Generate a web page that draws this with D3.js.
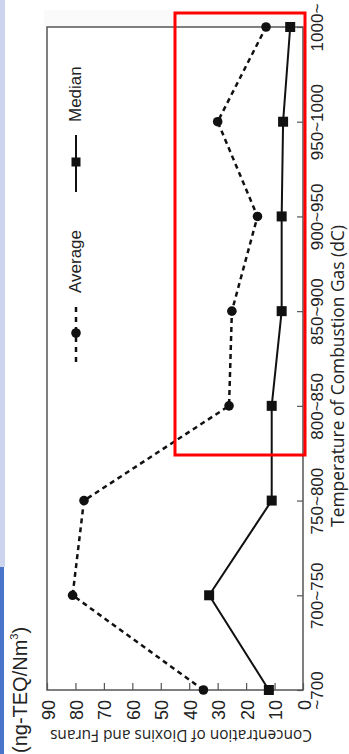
<!DOCTYPE html>
<html><head><meta charset="utf-8">
<script src="https://cdn.jsdelivr.net/npm/d3@7"></script>
<style>html,body{margin:0;padding:0;background:#fff;}svg{display:block;}</style>
</head><body>
<script>
const categories = ["~700","700~750","750~800","800~850","850~900","900~950","950~1000","1000~"];
const averageValues = [35, 81, 77, 26, 25, 16, 30, 13];
const medianValues = [12, 33, 11, 11, 7.5, 7.5, 7, 4.5];
const valueTicks = [0,10,20,30,40,50,60,70,80,90];
const xTitle = "Temperature of Combustion Gas (dC)";
const yTitle = "Concentration of Dioxins and Furans";
const unitLabel = "(ng-TEQ/Nm";

const W = 349, H = 754;
const svg = d3.select("body").append("svg").attr("width", W).attr("height", H);

// page strip at the left edge
svg.append("rect").attr("x",0).attr("y",0).attr("width",5).attr("height",567).attr("fill","#cdd4ee");
svg.append("rect").attr("x",0).attr("y",567).attr("width",4).attr("height",H-567).attr("fill","#4a74c9");
// faint band above the plot
svg.append("rect").attr("x",44).attr("y",10).attr("width",262).attr("height",17).attr("fill","#fafafa");

const plot = {left:47, right:303, top:27, bottom:690};
const val = d3.scaleLinear().domain([0,90]).range([plot.right, plot.left]);
const cat = d3.scalePoint().domain(categories).range([plot.bottom, plot.top]).padding(0);

const narrow = "'Liberation Sans Narrow','Arial Narrow',sans-serif";
const sans = "'Liberation Sans',Arial,sans-serif";
const soft = "'Open Sans','Noto Sans',sans-serif";

function fit(sel, target){
  const n = sel.node();
  const fs = +sel.attr("font-size");
  const len = n.getComputedTextLength();
  if (len > 0) sel.attr("font-size", (fs*target/len).toFixed(2));
  return sel;
}

// frame
svg.append("rect").attr("x",plot.left).attr("y",plot.top)
  .attr("width",plot.right-plot.left).attr("height",plot.bottom-plot.top)
  .attr("fill","none").attr("stroke","#555").attr("stroke-width",1.5);

// value axis (bottom, rotated labels)
const vAxis = svg.append("g").attr("transform",`translate(0,${plot.bottom})`)
  .call(d3.axisBottom(val).tickValues(valueTicks).tickSizeInner(-7).tickSizeOuter(0));
vAxis.select(".domain").remove();
vAxis.selectAll(".tick line").attr("stroke","#555").attr("stroke-width",1.2);
vAxis.selectAll(".tick text")
  .attr("transform","rotate(-90)").attr("x",-10).attr("y",7).attr("dy",null)
  .attr("text-anchor","end").attr("font-family",narrow).attr("font-size",18).attr("fill","#222");

// category axis (right, rotated labels)
const cAxis = svg.append("g").attr("transform",`translate(${plot.right},0)`)
  .call(d3.axisRight(cat).tickSizeInner(-6).tickSizeOuter(0));
cAxis.select(".domain").remove();
cAxis.selectAll(".tick line").attr("stroke","#555").attr("stroke-width",1.2);
cAxis.selectAll(".tick text")
  .attr("transform","rotate(-90)").attr("x",0).attr("y",20).attr("dy",null)
  .attr("text-anchor","middle").attr("font-family",narrow).attr("font-size",17).attr("fill","#222");

// titles
fit(svg.append("text").attr("transform",`translate(344,376) rotate(-90)`)
  .attr("text-anchor","middle").attr("font-family",soft).attr("font-size",15).attr("fill","#222").text(xTitle), 302);
fit(svg.append("text").attr("transform",`translate(181,730) rotate(180)`)
  .attr("text-anchor","middle").attr("font-family",soft).attr("font-size",15).attr("fill","#222").text(yTitle), 262);
const u = svg.append("text").attr("transform",`translate(27,753) rotate(-90)`)
  .attr("text-anchor","start").attr("font-family",sans).attr("font-size",20).attr("fill","#222");
u.append("tspan").text(unitLabel);
u.append("tspan").attr("font-size",11).attr("dy",-9).text("3");
u.append("tspan").attr("dy",9).text(")");

// series
const avgData = categories.map((c,i)=>({c, v:averageValues[i]}));
const medData = categories.map((c,i)=>({c, v:medianValues[i]}));
const line = d3.line().x(d=>val(d.v)).y(d=>cat(d.c));

svg.append("path").datum(avgData).attr("d",line).attr("fill","none")
  .attr("stroke","#111").attr("stroke-width",2.5).attr("stroke-dasharray","5,4");
svg.append("path").datum(medData).attr("d",line).attr("fill","none")
  .attr("stroke","#111").attr("stroke-width",2);
svg.selectAll(".avgpt").data(avgData).join("circle").attr("class","avgpt")
  .attr("cx",d=>val(d.v)).attr("cy",d=>cat(d.c)).attr("r",4.8).attr("fill","#111");
svg.selectAll(".medpt").data(medData).join("rect").attr("class","medpt")
  .attr("x",d=>val(d.v)-5).attr("y",d=>cat(d.c)-5).attr("width",10).attr("height",10).attr("fill","#111");

// legend
const lx = 76;
svg.append("line").attr("x1",lx).attr("x2",lx).attr("y1",135).attr("y2",192).attr("stroke","#111").attr("stroke-width",2);
svg.append("rect").attr("x",lx-4.5).attr("y",157.5).attr("width",9).attr("height",9).attr("fill","#111");
svg.append("text").attr("transform",`translate(81,122) rotate(-90)`).attr("font-family",sans).attr("font-size",17).attr("fill","#222").text("Median");
svg.append("line").attr("x1",lx).attr("x2",lx).attr("y1",307).attr("y2",364).attr("stroke","#111").attr("stroke-width",2.5).attr("stroke-dasharray","5,5");
svg.append("circle").attr("cx",lx).attr("cy",333).attr("r",4.8).attr("fill","#111");
svg.append("text").attr("transform",`translate(81,293) rotate(-90)`).attr("font-family",sans).attr("font-size",17).attr("fill","#222").text("Average");

// red highlight box
svg.append("rect").attr("x",175).attr("y",13).attr("width",130).attr("height",442)
  .attr("fill","none").attr("stroke","#ff0000").attr("stroke-width",3);
</script>
</body></html>
